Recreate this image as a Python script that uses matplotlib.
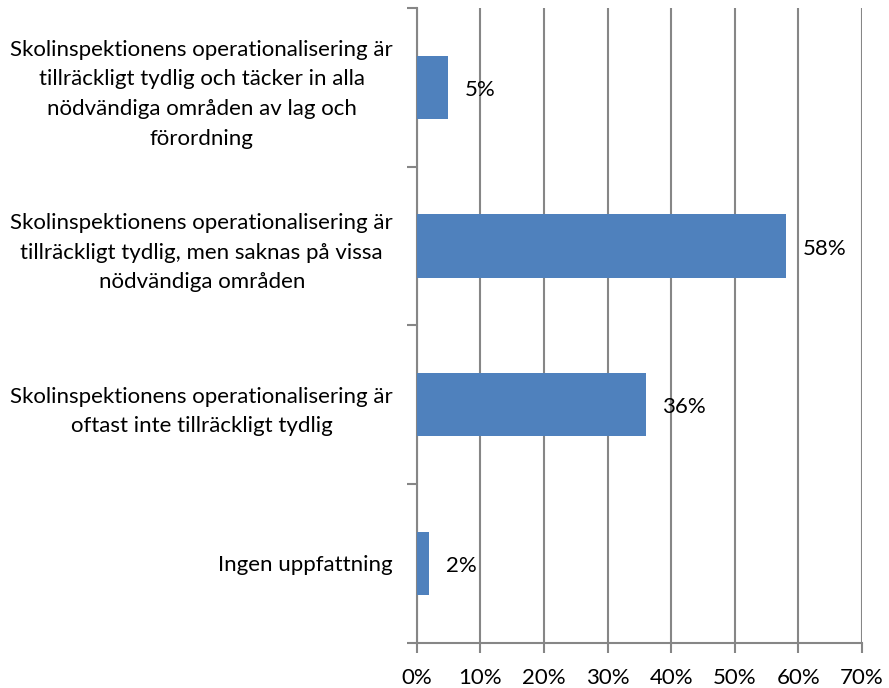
import matplotlib
matplotlib.use('Agg')
import matplotlib.pyplot as plt
from matplotlib.ticker import FixedLocator, NullFormatter

categories = [
    'Skolinspektionens operationalisering är\ntillräckligt tydlig och täcker in alla\nnödvändiga områden av lag och\nförordning',
    'Skolinspektionens operationalisering är\ntillräckligt tydlig, men saknas på vissa\nnödvändiga områden',
    'Skolinspektionens operationalisering är\noftast inte tillräckligt tydlig',
    'Ingen uppfattning',
]
values = [5, 58, 36, 2]
xticks = [0, 10, 20, 30, 40, 50, 60, 70]

plt.rcParams['font.family'] = ['Lato', 'DejaVu Sans']
FS = 16

fig = plt.figure(figsize=(8.89, 6.88), dpi=100)
ax = fig.add_axes([0.4687, 0.0658, 0.5009, 0.9226])

pos = list(range(len(values)))
ax.barh(pos, values, height=0.4, color='#4F81BD', zorder=3)
ax.set_xlim(0, 70)
ax.set_ylim(3.5, -0.5)

ax.set_xticks(xticks)
ax.set_xticklabels([f'{t}%' for t in xticks], fontsize=FS)
ax.grid(axis='x', color='#868686', linewidth=1.5, zorder=0)

ax.yaxis.set_major_locator(FixedLocator([-0.5, 0.5, 1.5, 2.5, 3.5]))
ax.yaxis.set_major_formatter(NullFormatter())
ax.set_yticks(pos, minor=True)
ax.set_yticklabels(categories, minor=True, fontsize=FS, linespacing=1.6)
for lbl in ax.get_yticklabels(minor=True):
    lbl.set_multialignment('center')
ax.tick_params(axis='y', which='minor', length=0, pad=17)
ax.tick_params(axis='y', which='major', length=7, width=1.5, color='#868686')
ax.tick_params(axis='x', length=7, width=1.5, color='#868686', pad=11)

for s in ['top', 'right']:
    ax.spines[s].set_visible(False)
for s in ['left', 'bottom']:
    ax.spines[s].set_color('#868686')
    ax.spines[s].set_linewidth(1.5)

for p, v in zip(pos, values):
    ax.annotate(f'{v}%', (v, p), xytext=(12, -2), textcoords='offset points',
                va='center', ha='left', fontsize=FS)

fig.savefig('out.png', dpi=100)
